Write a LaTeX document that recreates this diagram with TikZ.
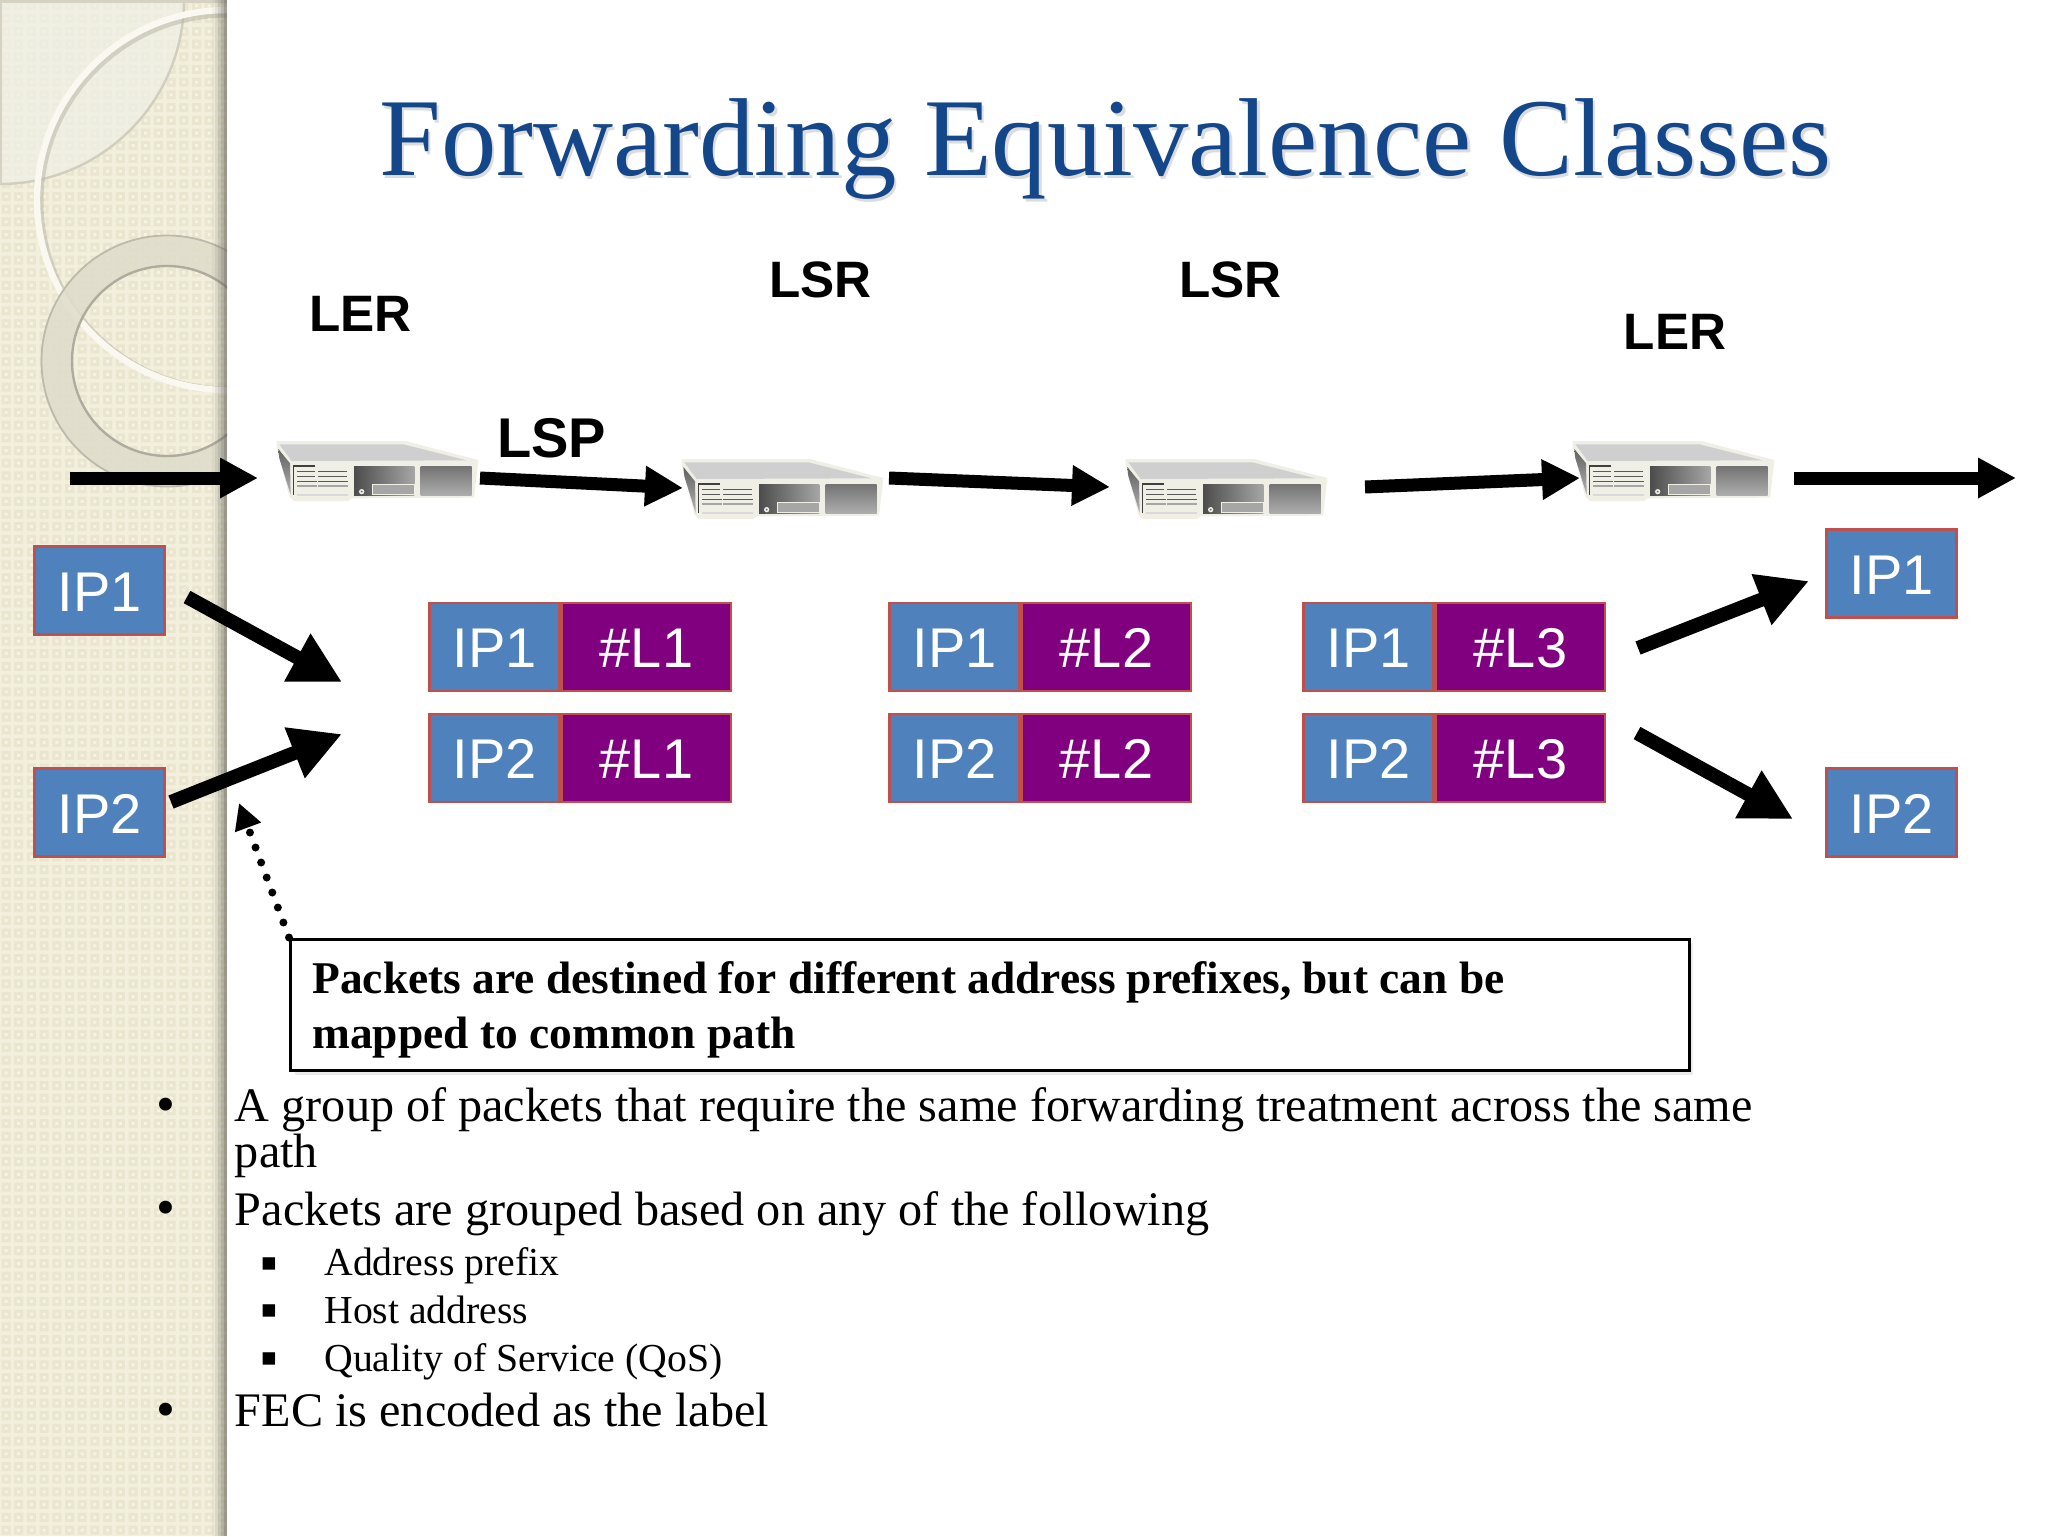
\documentclass[tikz,border=0pt]{standalone}
\usepackage{fontspec}
\setmainfont{Liberation Serif}
\newfontfamily\arialf{Liberation Sans}
\usetikzlibrary{arrows.meta}
\definecolor{ipblue}{HTML}{4F81BD}
\definecolor{ipborder}{HTML}{C0504D}
\definecolor{lblpurple}{HTML}{800080}
\definecolor{titleblue}{HTML}{14478A}
\definecolor{sidebase}{HTML}{F3EFDD}
\definecolor{sidesq}{HTML}{EAE5CE}
\definecolor{sidedot}{HTML}{F6F3E4}
\definecolor{srvlight}{HTML}{EFEFE6}
\definecolor{quarterlight}{HTML}{EFF0E6}
\tikzset{
  x=0.5pt,y=-0.5pt,
  cell/.style={draw=ipborder,line width=1.4pt,inner sep=0pt,minimum height=44pt,text=white,text height=20.8pt,text depth=0pt,font=\arialf\fontsize{28}{30}\selectfont},
  ipcell/.style={cell,fill=ipblue,minimum width=65pt},
  numcell/.style={cell,fill=lblpurple,minimum width=84.5pt},
  bigarrow/.style={line width=7pt,-{Triangle[length=25.5pt,width=25.5pt]}},
  toparrow/.style={line width=6.5pt,-{Triangle[length=19pt,width=19pt]}},
  routerlabel/.style={anchor=base,inner sep=0pt,font=\arialf\bfseries\fontsize{25.6}{27}\selectfont},
  maintext/.style={anchor=base west,inner sep=0pt,font=\fontsize{24.1}{26}\selectfont},
  subtext/.style={anchor=base west,inner sep=0pt,font=\fontsize{19.85}{24}\selectfont},
  boxtext/.style={anchor=base west,inner sep=0pt,font=\bfseries\fontsize{22.7}{24}\selectfont},
  bull/.style={anchor=center,inner sep=0pt,font=\fontsize{27}{32}\selectfont},
  bullsq/.style={anchor=center,inner sep=0pt,font=\fontsize{25}{26}\selectfont},
}
\newcommand{\srv}[3]{%
 \node[inner sep=0pt,minimum width=100pt,minimum height=29pt] (#1) at ({#2+377},{#3+471}) {};
 \begin{scope}[xshift={(270+#2)*0.5pt},yshift={-(435+#3)*0.5pt},x=0.16667pt,y=-0.16667pt]
  \fill[srvlight] (20,18)--(405,18)--(625,75)--(612,188)--(245,190)--(235,198)--(72,198)--(58,185)--(20,35)--cycle;
  \fill[black!19] (28,28)--(400,28)--(590,76)--(65,78)--cycle;
  \shade[top color=black!62,bottom color=black!30] (25,42)--(60,85)--(62,180)--(28,70)--cycle;
  \draw[black!75,line width=0.8pt] (70,180)--(70,93)--(135,93);
  \draw[black!65,line width=0.8pt] (82,110)--(135,110) (145,110)--(230,110) (82,125)--(135,125) (145,125)--(230,125) (82,140)--(140,140) (145,140)--(235,140);
  \draw[black!35,line width=0.7pt] (82,153)--(140,153) (145,153)--(235,153);
  \draw[black!15,line width=0.7pt] (80,180)--(235,180);
  \shade[left color=black!70,right color=black!35] (252,93) rectangle (433,180);
  \draw[srvlight,fill=black!35,line width=0.8pt] (308,148) rectangle (433,178);
  \fill[srvlight] (275,170) circle[radius=8];
  \fill[black!60] (275,170) circle[radius=3];
  \shade[top color=black!55,bottom color=black!32] (452,93) rectangle (605,180);
 \end{scope}}
\newcommand{\lblrow}[5]{%
 \node[ipcell] (#1a) at ({#2+66.5},#3) {#4};
 \node[numcell] (#1b) at ({#2+218.5},#3) {#5};}
\begin{document}
\begin{tikzpicture}
\useasboundingbox (0,0) rectangle (2048,1536);
\fill[white] (0,0) rectangle (2048,1536);
% sidebar
\begin{scope}
 \clip (0,0) rectangle (227,1536);
 \fill[sidebase] (0,0) rectangle (227,1536);
 \fill[sidesq] foreach \i in {0,...,18}{ foreach \j in {0,...,121}{
   ({\i*12.7+1.5},{\j*12.7+1.5}) rectangle ++(9,9)}};
 \fill[sidedot] foreach \i in {0,...,18}{ foreach \j in {0,...,121}{
   ({\i*12.7+4.5},{\j*12.7+4.5}) rectangle ++(3,3)}};
 % quarter disc
 \fill[fill=quarterlight,opacity=.7] (0,0) -- (184,0) arc[start angle=0,end angle=90,radius=184] -- cycle;
 \draw[black!14!sidebase,line width=1.2pt] (184,0) arc[start angle=0,end angle=90,radius=184];
 \fill[black!12!sidebase] (0,0) rectangle (227,3);
 \fill[black!12!sidebase] (0,0) rectangle (1.5,184);
 % big thin circle
 \draw[black!25!sidebase,line width=2.5pt,opacity=.5] (228,202) circle[radius=187];
 \draw[white!55!sidebase,line width=3.2pt] (227,200) circle[radius=190];
 % ring
 \fill[even odd rule,fill=black!8!sidebase,opacity=.85] (167,361) circle[radius=125.5] (167,361) circle[radius=95];
 \draw[black!22!sidebase,line width=.9pt] (167,361) circle[radius=125.5];
 \draw[black!28!sidebase,line width=1.2pt] (167,361) circle[radius=95];
 % edge shadow
 \foreach \k/\o in {212/.05,215/.1,218/.14,221/.2,224/.28}
   \fill[black!60!sidebase,opacity=\o] (\k,0) rectangle (227,1536);
\end{scope}
% title
\node[anchor=base west,inner sep=0pt,text=black!45,opacity=.3,font=\fontsize{55.4}{60}\selectfont] (titleshadow) at (381.5,178.5) {Forwarding Equivalence Classes};
\node[anchor=base west,inner sep=0pt,text=titleblue,font=\fontsize{55.4}{60}\selectfont] (title) at (379,175) {Forwarding Equivalence Classes};
% router labels
\node[routerlabel] (ler1) at (360.5,331) {LER};
\node[routerlabel] (lsr1) at (820.5,297) {LSR};
\node[routerlabel] (lsr2) at (1230.5,297) {LSR};
\node[routerlabel] (ler2) at (1675,349) {LER};
\node[routerlabel,font=\arialf\bfseries\fontsize{28}{30}\selectfont] (lsp) at (551.5,457) {LSP};
% servers
\srv{s1}{0}{0}
\srv{s2}{405}{18}
\srv{s3}{849}{18}
\srv{s4}{1296}{0}
% ends of top arrows
\coordinate (t0a) at (70,478); \coordinate (t0b) at (258,478);
\coordinate (t1a) at (480,478); \coordinate (t1b) at (683,488);
\coordinate (t2a) at (889,478); \coordinate (t2b) at (1110,487);
\coordinate (t3a) at (1365,487); \coordinate (t3b) at (1580,478);
\coordinate (t4a) at (1794,478); \coordinate (t4b) at (2016,478);
\foreach \n in {0,...,4} \draw[toparrow] (t\n a) -- (t\n b);
% IP boxes
\node[ipcell] (lip1) at (99.5,590.5) {IP1};
\node[ipcell] (lip2) at (99.5,812.5) {IP2};
\node[ipcell] (rip1) at (1891.5,573.5) {IP1};
\node[ipcell] (rip2) at (1891.5,812.5) {IP2};
% label rows
\lblrow{a1}{428}{647}{IP1}{\#L1}
\lblrow{a2}{428}{758}{IP2}{\#L1}
\lblrow{b1}{888}{647}{IP1}{\#L2}
\lblrow{b2}{888}{758}{IP2}{\#L2}
\lblrow{c1}{1302}{647}{IP1}{\#L3}
\lblrow{c2}{1302}{758}{IP2}{\#L3}
% big arrows
\coordinate (d1a) at (187,597); \coordinate (d1b) at (342,682);
\coordinate (d2a) at (171,802); \coordinate (d2b) at (342,734);
\coordinate (d3a) at (1638,648); \coordinate (d3b) at (1809,581);
\coordinate (d4a) at (1637,733); \coordinate (d4b) at (1793,819);
\foreach \n in {1,...,4} \draw[bigarrow] (d\n a) -- (d\n b);
% note box
\fill[black!25,opacity=.3] (295,943) rectangle (1693,1075);
\node[draw=black,fill=white,line width=1.5pt,inner sep=0pt,minimum width=699.5pt,minimum height=65.5pt] (note) at (990,1004.5) {};
\node[boxtext] (n1) at (312,993.5) {Packets are destined for different address prefixes, but can be};
\node[boxtext] (n2) at (312,1048) {mapped to common path};
\coordinate (dottip) at (239,803);
\draw[line width=4pt,line cap=round,dash pattern=on 0pt off 8pt,-{Triangle[length=13pt,width=13pt]}] (note.north west) -- (dottip);
% bullets
\node[maintext] (b1t) at (234.5,1121.3) {A group of packets that require the same forwarding treatment across the same};
\node[maintext] (b1u) at (234.5,1167.3) {path};
\node[maintext] (b2t) at (234.5,1225.3) {Packets are grouped based on any of the following};
\node[subtext] (s1t) at (324,1275.3) {Address prefix};
\node[subtext] (s2t) at (324,1323.3) {Host address};
\node[subtext] (s3t) at (324,1371.3) {Quality of Service (QoS)};
\node[maintext] (b3t) at (234.5,1426.3) {FEC is encoded as the label};
\node[bull] (d1) at (166,1110) {•};
\node[bull] (d2) at (166,1213.5) {•};
\node[bull] (d3) at (166,1415) {•};
\node[bullsq] (q1) at (269,1268.5) {▪};
\node[bullsq] (q2) at (269,1315.5) {▪};
\node[bullsq] (q3) at (269,1363.5) {▪};
\end{tikzpicture}
\end{document}
